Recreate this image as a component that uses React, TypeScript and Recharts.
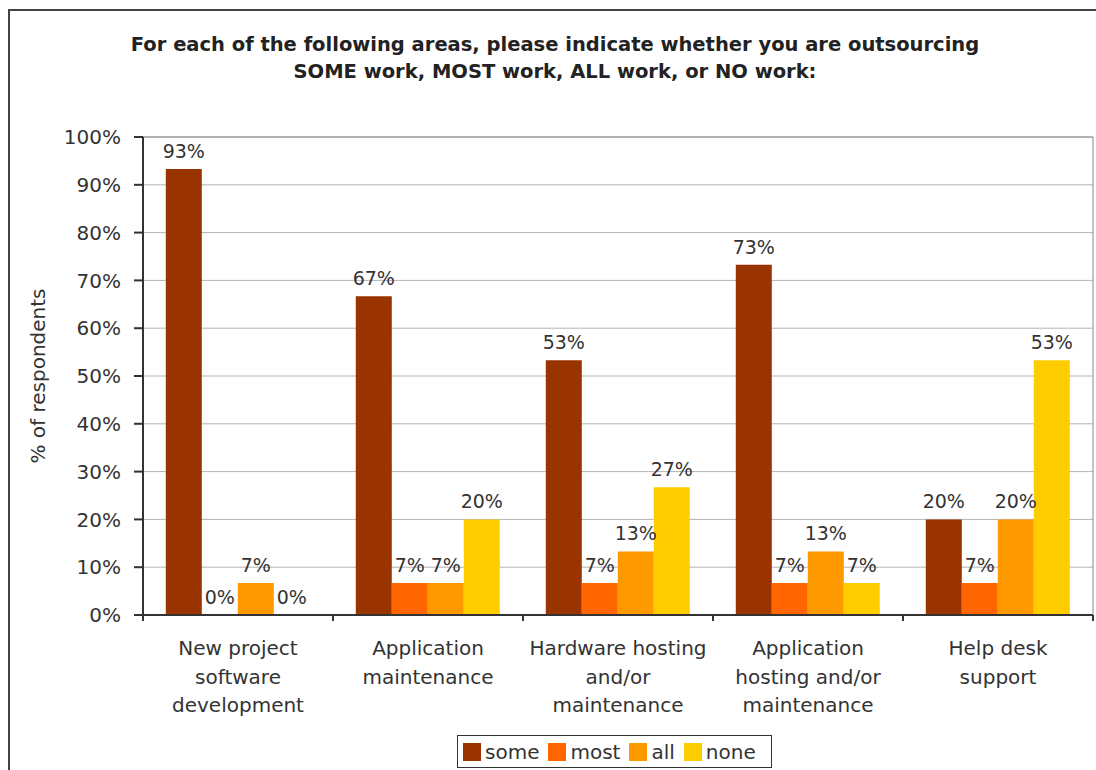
import { BarChart, Bar, XAxis, YAxis, CartesianGrid, LabelList, ReferenceLine, Label } from 'recharts';

const FONT = '"DejaVu Sans", Verdana, sans-serif';

const titleLines = [
    'For each of the following areas, please indicate whether you are outsourcing',
    'SOME work, MOST work, ALL work, or NO work:',
];

// category labels, one string per group, lines split by \n
const categories = [
    'New project\nsoftware\ndevelopment',
    'Application\nmaintenance',
    'Hardware hosting\nand/or\nmaintenance',
    'Application\nhosting and/or\nmaintenance',
    'Help desk\nsupport',
];

// % of respondents (n = 15, labels are rounded)
const some = [93.3, 66.7, 53.3, 73.3, 20];
const most = [0, 6.7, 6.7, 6.7, 6.7];
const all = [6.7, 6.7, 13.3, 13.3, 20];
const none = [0, 20, 26.7, 6.7, 53.3];

const seriesNames = ['some', 'most', 'all', 'none'];
const seriesColors = ['#993300', '#FF6600', '#FF9900', '#FFCC00'];

const yTicks = [0, 10, 20, 30, 40, 50, 60, 70, 80, 90, 100];

const data = categories.map((name, i) => ({
    name,
    some: some[i],
    most: most[i],
    all: all[i],
    none: none[i],
}));

// label lines centred on the group, plus the small tick marks on the group boundaries
function CategoryTick(props: any) {
    const { x, y, payload, index, visibleTicksCount, width } = props;
    const band = Number(width) / Number(visibleTicksCount);
    const lines = String(payload.value).split('\n');
    const edges = index === visibleTicksCount - 1 ? [x - band / 2, x + band / 2] : [x - band / 2];
    return (
        <g>
            {Number.isFinite(band) && edges.map((ex, i) => (
                <line key={i} x1={ex} x2={ex} y1={y} y2={y + 6} stroke="#333" strokeWidth={2} />
            ))}
            <text x={x} y={y + 40} textAnchor="middle" fontSize={20} fill="#333" fontFamily={FONT}>
                {lines.map((line, i) => (
                    <tspan key={i} x={x} dy={i === 0 ? 0 : 28.5}>{line}</tspan>
                ))}
            </text>
        </g>
    );
}

function YTitle(props: any) {
    const { viewBox } = props;
    const cx = viewBox.x - 5;
    const cy = viewBox.y + viewBox.height / 2;
    return (
        <text x={cx} y={cy} transform={`rotate(-90, ${cx}, ${cy})`} textAnchor="middle" dominantBaseline="central"
            fontSize={20} fill="#333" fontFamily={FONT}>
            % of respondents
        </text>
    );
}

export default function App() {
    return (
        <div style={{ position: 'absolute', left: 0, top: 0, width: 1096, height: 770, overflow: 'hidden', background: '#fff' }}>
            {/* outer frame, runs off the right/bottom of the picture */}
            <div style={{ position: 'absolute', left: 8, top: 9, width: 1300, height: 1000, border: '2px solid #444' }} />

            <div style={{ position: 'absolute', left: 0, top: 31, width: 1110, textAlign: 'center', fontFamily: FONT, fontWeight: 'bold', fontSize: 19.5, lineHeight: '27px', color: '#222' }}>
                {titleLines.map((t) => <div key={t}>{t}</div>)}
            </div>

            <div style={{ position: 'absolute', left: 0, top: 0 }}>
                <BarChart
                    width={1096}
                    height={770}
                    data={data}
                    margin={{ top: 137, right: 0, left: 43, bottom: 55 }}
                    barCategoryGap="12%"
                    barGap={0}
                >
                    <CartesianGrid horizontal vertical={false} stroke="#b3b3b3" />
                    <ReferenceLine y={100} stroke="#888" />
                    <XAxis
                        dataKey="name"
                        tick={<CategoryTick />}
                        tickLine={false}
                        tickSize={0}
                        tickMargin={0}
                        interval={0}
                        axisLine={{ stroke: '#333', strokeWidth: 2 }}
                        height={100}
                    />
                    <YAxis
                        domain={[0, 100]}
                        ticks={yTicks}
                        width={100}
                        tickFormatter={(v) => `${v}%`}
                        tick={{ fontSize: 20, fill: '#333', fontFamily: FONT }}
                        tickSize={9}
                        tickMargin={13}
                        tickLine={{ stroke: '#333', strokeWidth: 2 }}
                        axisLine={{ stroke: '#333', strokeWidth: 2 }}
                    >
                        <Label content={<YTitle />} />
                    </YAxis>
                    <YAxis
                        yAxisId="right"
                        orientation="right"
                        domain={[0, 100]}
                        width={3}
                        tick={false}
                        tickLine={false}
                        axisLine={{ stroke: '#888' }}
                    />
                    {seriesNames.map((key, i) => (
                        <Bar key={key} dataKey={key} fill={seriesColors[i]} minPointSize={0.01} isAnimationActive={false}>
                            <LabelList
                                dataKey={key}
                                position="top"
                                offset={11}
                                formatter={(v: any) => `${Math.round(Number(v))}%`}
                                style={{ fontSize: 19, fill: '#333', fontFamily: FONT }}
                            />
                        </Bar>
                    ))}
                </BarChart>
            </div>

            <div style={{ position: 'absolute', left: 457, top: 735, width: 315, height: 33, border: '1.5px solid #333', display: 'flex', alignItems: 'center', paddingLeft: 5, boxSizing: 'border-box', fontFamily: FONT, fontSize: 20, color: '#333' }}>
                {seriesNames.map((name, i) => (
                    <div key={name} style={{ display: 'flex', alignItems: 'center', marginRight: 9 }}>
                        <span style={{ display: 'inline-block', width: 18, height: 18, background: seriesColors[i], marginRight: 4 }} />
                        <span>{name}</span>
                    </div>
                ))}
            </div>
        </div>
    );
}
